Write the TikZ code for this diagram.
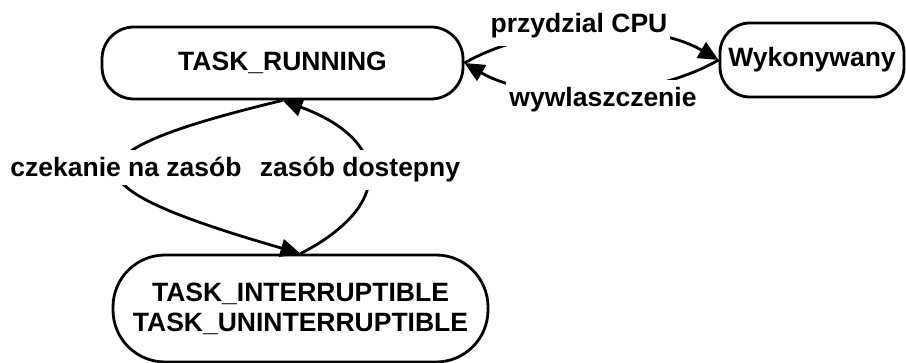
\documentclass[tikz,border=0pt]{standalone}
\usepackage{fontspec}
\setmainfont{Liberation Sans}
\usetikzlibrary{arrows.meta}
\begin{document}
\begin{tikzpicture}[x=1pt,y=-1pt,
  state/.style={draw, line width=2.8pt, inner sep=0pt, align=center,
    font=\fontsize{26.5}{30}\selectfont\bfseries},
  lbl/.style={fill=white, inner xsep=3pt, inner ysep=8pt,
    font=\fontsize{26.5}{30}\selectfont\bfseries},
  conn/.style={line width=2.8pt, -{Triangle[length=20pt,width=18pt]}}]
\useasboundingbox (0,0) rectangle (906,363);
\node[state, minimum width=361pt, minimum height=72pt, rounded corners=32pt] (TR) at (282.5,63) {TASK\_RUNNING};
\node[state, minimum width=184pt, minimum height=74pt, rounded corners=30pt] (W) at (812,60) {Wykonywany};
\node[state, minimum width=375pt, minimum height=107pt, rounded corners=52pt] (BB) at (300.5,308.5) {TASK\_INTERRUPTIBLE\\TASK\_UNINTERRUPTIBLE};
% connectors
\draw[conn] (TR.east) .. controls +(70,-40) and +(-69,-40) .. (W.west);
\draw[conn] (W.west) .. controls +(-69,40) and +(69,40) .. (TR.east);
\draw[conn] (TR.south) .. controls (60,154) and (63,185) .. (BB.north);
\draw[conn] (BB.north) .. controls (395,205) and (390,140) .. (TR.south);
% labels
\node[lbl, anchor=base] (l1) at (579,33) {przydzial CPU};
\node[lbl, anchor=base] (l2) at (603,107) {wywlaszczenie};
\node[lbl, anchor=base] (l3) at (126,177) {czekanie na zasób};
\node[lbl, anchor=base] (l4) at (360,177) {zasób dostepny};
\end{tikzpicture}
\end{document}
